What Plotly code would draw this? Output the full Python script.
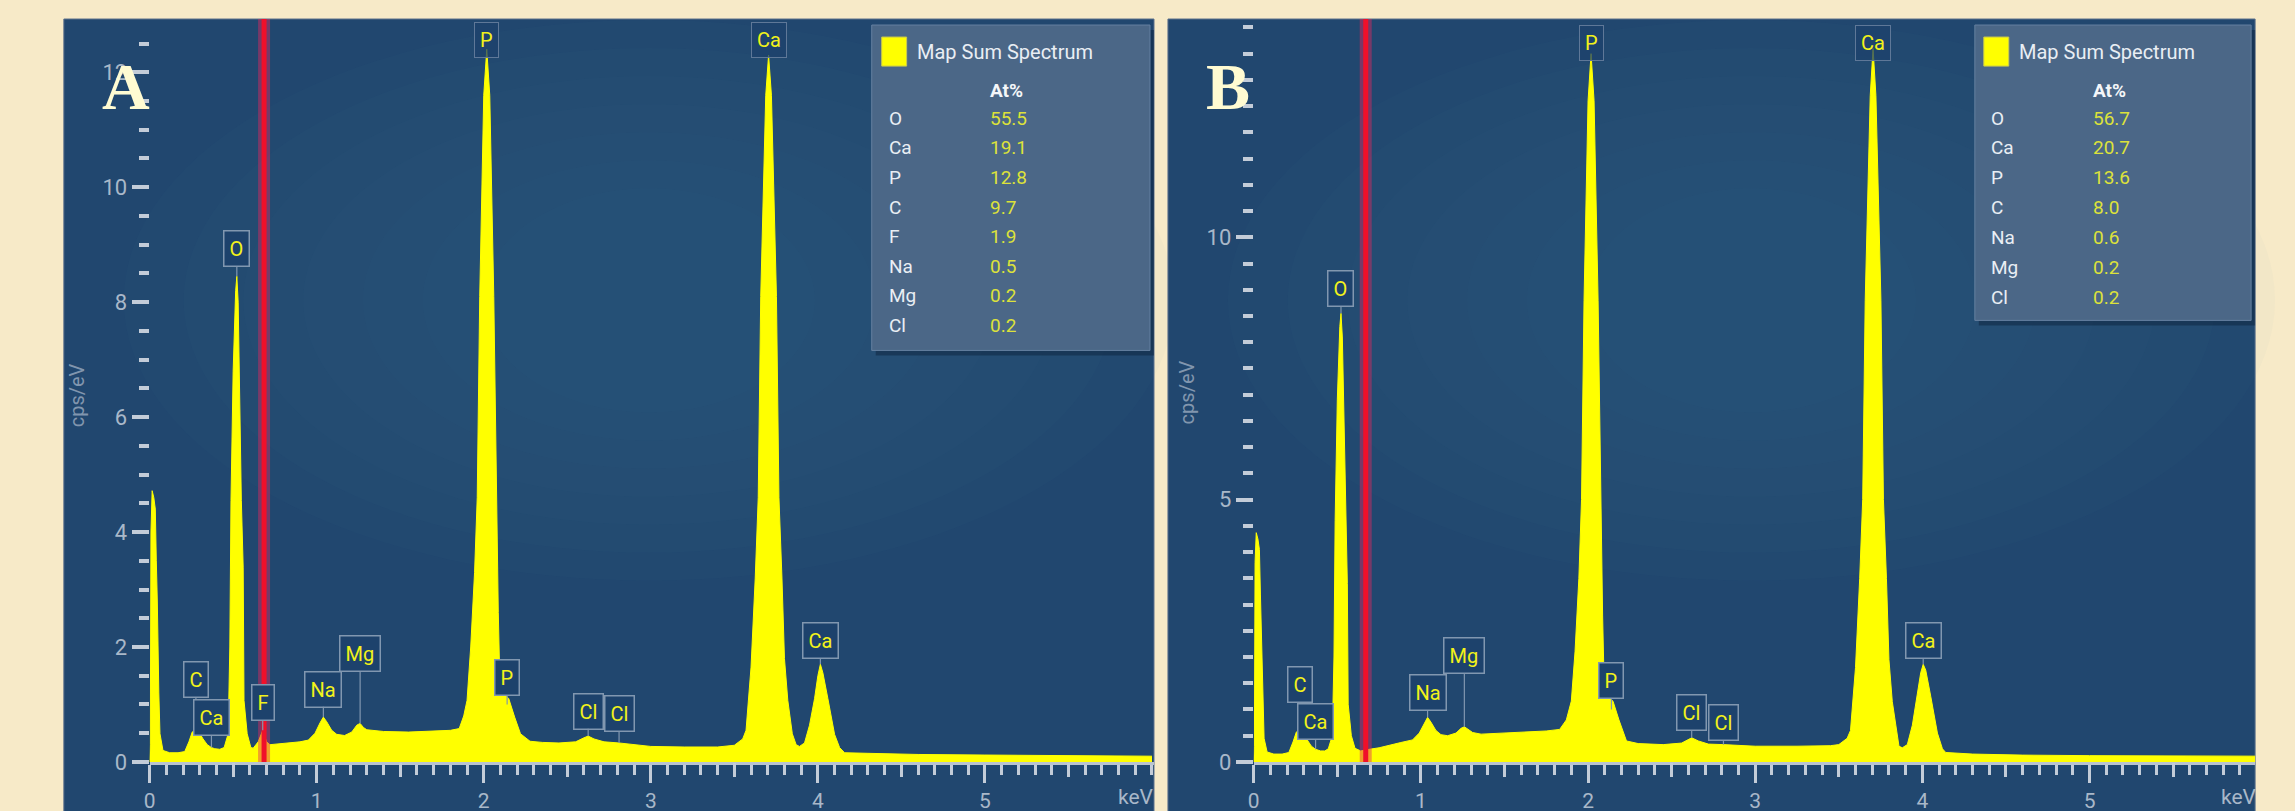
import plotly.graph_objects as go

# ---------------- data ----------------
# Panel A spectrum (keV, cps/eV)
a_kev = [0.000, 0.004, 0.008, 0.015, 0.025, 0.034, 0.040, 0.046, 0.055, 0.062, 0.080, 0.120, 0.170, 0.210,
         0.235, 0.255, 0.275, 0.295, 0.320, 0.345, 0.370, 0.390, 0.420, 0.446, 0.470, 0.480, 0.487, 0.500,
         0.515, 0.522, 0.530, 0.540, 0.549, 0.560, 0.565, 0.584, 0.606, 0.620, 0.650, 0.677, 0.700, 0.720,
         0.800, 0.900, 0.950, 0.990, 1.020, 1.040, 1.060, 1.090, 1.120, 1.167, 1.210, 1.240, 1.260, 1.280,
         1.300, 1.400, 1.550, 1.700, 1.800, 1.853, 1.880, 1.900, 1.922, 1.945, 1.961, 1.976, 2.000, 2.018,
         2.036, 2.060, 2.075, 2.087, 2.094, 2.110, 2.130, 2.150, 2.185, 2.220, 2.277, 2.350, 2.450,
         2.550, 2.600, 2.625, 2.660, 2.720, 2.810, 2.900, 3.000, 3.200, 3.400, 3.500, 3.550, 3.570, 3.600,
         3.625, 3.643, 3.658, 3.688, 3.705, 3.722, 3.752, 3.767, 3.785, 3.800, 3.820,
         3.847, 3.870, 3.890, 3.920, 3.950, 3.980, 4.000, 4.015, 4.030, 4.060, 4.100, 4.130, 4.160, 4.300,
         4.600, 5.000, 5.500, 6.000]
a_cps = [0.00, 0.30, 4.00, 4.72, 4.60, 4.40, 3.50, 2.80, 1.20, 0.49, 0.20, 0.16, 0.16, 0.18,
         0.35, 0.52, 0.56, 0.52, 0.40, 0.30, 0.25, 0.23, 0.22, 0.25, 0.49, 2.00, 4.55, 6.80,
         8.20, 8.45, 8.00, 6.20, 4.55, 3.39, 1.07, 0.49, 0.25, 0.24, 0.35, 0.55, 0.35, 0.30,
         0.32, 0.35, 0.38, 0.50, 0.68, 0.78, 0.70, 0.55, 0.48, 0.46, 0.52, 0.64, 0.67, 0.60,
         0.56, 0.53, 0.52, 0.54, 0.55, 0.58, 0.80, 1.07, 2.00, 3.30, 4.60, 8.10, 11.60, 12.40,
         11.60, 8.10, 4.60, 2.60, 1.70, 1.25, 1.16, 1.10, 0.78, 0.49, 0.36, 0.34, 0.33,
         0.35, 0.42, 0.45, 0.40, 0.35, 0.33, 0.30, 0.27, 0.26, 0.26, 0.29, 0.40, 0.55, 1.65,
         3.20, 4.60, 8.10, 11.60, 12.30, 11.60, 8.10, 4.60, 3.20, 1.80, 1.07,
         0.49, 0.30, 0.27, 0.33, 0.64, 1.10, 1.50, 1.70, 1.55, 1.10, 0.48, 0.25, 0.16, 0.15,
         0.13, 0.12, 0.11, 0.10]

# Panel B spectrum (keV, cps/eV)
b_kev = [0.000, 0.004, 0.008, 0.015, 0.025, 0.034, 0.040, 0.046, 0.055, 0.062, 0.080, 0.120, 0.170, 0.210,
         0.235, 0.255, 0.275, 0.295, 0.320, 0.345, 0.370, 0.400, 0.425, 0.446, 0.470, 0.480, 0.487, 0.500,
         0.515, 0.522, 0.530, 0.540, 0.549, 0.560, 0.565, 0.584, 0.606, 0.640, 0.690, 0.750, 0.880, 0.950,
         0.990, 1.020, 1.040, 1.060, 1.090, 1.120, 1.160, 1.210, 1.240, 1.260, 1.280, 1.310, 1.360, 1.500,
         1.650, 1.750, 1.830, 1.870, 1.900, 1.922, 1.945, 1.961, 1.976, 2.000, 2.018, 2.036, 2.060,
         2.075, 2.087, 2.094, 2.110, 2.130, 2.150, 2.185, 2.230, 2.300, 2.450, 2.560, 2.600, 2.620, 2.660,
         2.720, 2.810, 2.900, 3.000, 3.250, 3.450, 3.500, 3.550, 3.570, 3.600, 3.625, 3.643, 3.658, 3.688,
         3.705, 3.722, 3.752, 3.767, 3.785, 3.800, 3.820, 3.847, 3.860, 3.880, 3.910,
         3.940, 3.970, 3.990, 4.005, 4.020, 4.050, 4.090, 4.120, 4.140, 4.300, 4.600, 5.000, 5.500, 6.000]
b_cps = [0.00, 0.30, 3.80, 4.37, 4.25, 4.05, 3.20, 2.50, 1.10, 0.45, 0.19, 0.15, 0.15, 0.18,
         0.38, 0.57, 0.62, 0.57, 0.42, 0.30, 0.24, 0.21, 0.21, 0.25, 0.50, 2.00, 4.60, 6.90,
         8.30, 8.55, 8.10, 6.30, 4.60, 3.40, 1.10, 0.50, 0.26, 0.21, 0.24, 0.27, 0.37, 0.42,
         0.55, 0.75, 0.85, 0.76, 0.60, 0.52, 0.50, 0.55, 0.64, 0.67, 0.62, 0.56, 0.53, 0.55,
         0.57, 0.59, 0.62, 0.80, 1.16, 2.10, 3.50, 5.00, 8.80, 12.60, 13.50, 12.60, 8.80,
         5.00, 2.80, 1.80, 1.35, 1.23, 1.15, 0.80, 0.40, 0.35, 0.33, 0.36, 0.43, 0.46, 0.40,
         0.34, 0.33, 0.31, 0.30, 0.30, 0.31, 0.33, 0.45, 0.60, 1.80, 3.50, 5.00, 8.80, 12.70,
         13.60, 12.70, 8.80, 5.00, 3.50, 1.95, 1.15, 0.52, 0.30, 0.27, 0.33,
         0.70, 1.30, 1.70, 1.86, 1.75, 1.25, 0.55, 0.25, 0.18, 0.15, 0.13, 0.12, 0.11, 0.11]

# Peak labels: element, keV, cps/eV at pointer tip
a_lbl_el = ["C", "Ca", "O", "F", "Na", "Mg", "P", "Cl", "Cl", "Ca"]
a_lbl_kev = [0.277, 0.370, 0.522, 0.677, 1.040, 1.260, 2.140, 2.625, 2.810, 4.015]
a_lbl_cps = [0.56, 0.25, 8.45, 0.55, 0.78, 0.67, 1.00, 0.45, 0.33, 1.70]
a_top_el = ["P", "Ca"]
a_top_kev = [2.018, 3.705]

b_lbl_el = ["C", "Ca", "O", "Na", "Mg", "P", "Cl", "Cl", "Ca"]
b_lbl_kev = [0.277, 0.370, 0.522, 1.040, 1.260, 2.140, 2.620, 2.810, 4.005]
b_lbl_cps = [0.62, 0.24, 8.55, 0.85, 0.67, 1.00, 0.46, 0.33, 1.86]
b_top_el = ["P", "Ca"]
b_top_kev = [2.018, 3.705]

# Quantification tables (At%)
a_elements = ["O", "Ca", "P", "C", "F", "Na", "Mg", "Cl"]
a_atpct = ["55.5", "19.1", "12.8", "9.7", "1.9", "0.5", "0.2", "0.2"]
b_elements = ["O", "Ca", "P", "C", "Na", "Mg", "Cl"]
b_atpct = ["56.7", "20.7", "13.6", "8.0", "0.6", "0.2", "0.2"]

a_marker_kev = 0.685   # red marker line positions
b_marker_kev = 0.670
x_ticks = [0, 1, 2, 3, 4, 5]
x_half_ticks = [0.5, 1.5, 2.5, 3.5, 4.5, 5.5]

# ---------------- layout helpers ----------------
W, H = 2295, 811          # reference frame used for placement fractions
FIG_H = 825               # rendered height (page shows a 14px taller frame)
def px(x): return x / W
def py(y): return 1 - y / H

PAPER = "#f7eac8"
PANEL = "#21476f"
TICK = "#c3ccd8"
TICKLBL = "#a9b8c9"
YEL = "#ffff00"
LBLYEL = "#f2f21a"
FONT = "Roboto"

fig = go.Figure()

panels = [
    dict(name="A", kev=a_kev, cps=a_cps, xa="x", ya="y", xh="x3", marker=a_marker_kev,
         rect=(58, 19, 1151, 811), plotx=(144, 1151), xmax=1007 / 167.5, ymax=742 / 57.4, dtick=2,
         lbl=(a_lbl_el, a_lbl_kev, a_lbl_cps), ays=[-50, -30, -28, -28, -28, -70, -27, -25, -29, -24],
         top=(a_top_el, a_top_kev), topy=40,
         letter=(120, 86), ylab=(72, 395), kev_lbl=1133,
         legend=dict(box=(868, 25, 1147, 350), sq=(878, 37, 903, 66), title_x=911, at_x=985,
                     el_x=883, row0=118, step=29.6, els=a_elements, vals=a_atpct)),
    dict(name="B", kev=b_kev, cps=b_cps, xa="x2", ya="y2", xh="x4", marker=b_marker_kev,
         rect=(1165, 19, 2255, 811), plotx=(1251, 2255), xmax=1004 / 167.6, ymax=742 / 52.4, dtick=5,
         lbl=(b_lbl_el, b_lbl_kev, b_lbl_cps), ays=[-45, -28, -25, -25, -71, -29, -25, -22, -24],
         top=(b_top_el, b_top_kev), topy=43,
         letter=(1225, 86), ylab=(1185, 392), kev_lbl=2239,
         legend=dict(box=(1974, 25, 2251, 320), sq=(1983, 37, 2008, 66), title_x=2016, at_x=2090,
                     el_x=1988, row0=118, step=29.8, els=b_elements, vals=b_atpct)),
]

shapes = []
annotations = []
layout_axes = {}
ydom = [py(761), py(19)]

for i, p in enumerate(panels):
    sfx = "" if i == 0 else "2"
    hsfx = p["xh"][1:]
    x0, y0, x1, y1 = p["rect"]
    # dark panel
    shapes.append(dict(type="rect", xref="paper", yref="paper", x0=px(x0), x1=px(x1), y0=py(y1) - 0.02, y1=py(y0),
                       fillcolor=PANEL, line=dict(color="#5a6f8c", width=1), layer="below"))
    # soft lighter centre (stacked faint ellipses)
    cx, cy = (x0 + x1) / 2 + 40, 300
    for k in range(7):
        rx = (x1 - x0) / 2 - 20 - k * 60
        ry = 280 - k * 28
        shapes.append(dict(type="circle", xref="paper", yref="paper",
                           x0=px(cx - rx), x1=px(cx + rx), y0=py(cy + ry), y1=py(cy - ry),
                           fillcolor="rgba(80,130,180,0.028)", line=dict(width=0), layer="below"))

    fig.add_trace(go.Scatter(x=p["kev"], y=p["cps"], xaxis=p["xa"], yaxis=p["ya"], mode="lines",
                             line=dict(color=YEL, width=1), fill="tozeroy", fillcolor=YEL,
                             showlegend=False, hoverinfo="skip"))
    # invisible trace carrying the half-keV tick axis
    fig.add_trace(go.Scatter(x=[p["kev"][0]], y=[p["cps"][0]], xaxis=p["xh"], yaxis=p["ya"], mode="lines",
                             line=dict(width=0), showlegend=False, hoverinfo="skip"))

    layout_axes["xaxis" + sfx] = dict(
        domain=[px(p["plotx"][0]), px(p["plotx"][1])], range=[0, p["xmax"]], anchor=p["ya"],
        tickmode="array", tickvals=x_ticks, ticks="outside", ticklen=18, tickwidth=3, tickcolor=TICK,
        minor=dict(dtick=0.1, ticklen=10, tickwidth=3, tickcolor=TICK, ticks="outside"),
        showline=True, linecolor="#b9c3cf", linewidth=3, showgrid=False, zeroline=False,
        tickfont=dict(family=FONT, size=21, color=TICKLBL), fixedrange=True)
    layout_axes["xaxis" + hsfx] = dict(
        domain=[px(p["plotx"][0]), px(p["plotx"][1])], range=[0, p["xmax"]], anchor=p["ya"],
        overlaying=p["xa"], side="bottom",
        tickmode="array", tickvals=x_half_ticks, ticks="outside", ticklen=14, tickwidth=3, tickcolor=TICK,
        showticklabels=False, showline=False, showgrid=False, zeroline=False, fixedrange=True)
    layout_axes["yaxis" + sfx] = dict(
        domain=ydom, range=[0, p["ymax"]], anchor=p["xa"],
        dtick=p["dtick"], tick0=0, ticks="outside", ticklen=17, tickwidth=4, tickcolor=TICK,
        minor=dict(dtick=0.5, tick0=0, ticklen=10, tickwidth=4, tickcolor=TICK, ticks="outside"),
        showline=False, showgrid=False, zeroline=False,
        tickfont=dict(family=FONT, size=22, color=TICKLBL), fixedrange=True)

    # red marker line
    mk = p["marker"]
    shapes.append(dict(type="line", xref=p["xa"], yref="paper", x0=mk, x1=mk,
                       y0=ydom[0], y1=ydom[1], line=dict(color="rgba(225,40,95,0.45)", width=12), layer="above"))
    shapes.append(dict(type="line", xref=p["xa"], yref="paper", x0=mk, x1=mk,
                       y0=ydom[0], y1=ydom[1], line=dict(color="#f0102a", width=5), layer="above"))

    # peak labels
    els, kevs, cpss = p["lbl"]
    for el, kv, cv, ay in zip(els, kevs, cpss, p["ays"]):
        annotations.append(dict(x=kv, y=cv, xref=p["xa"], yref=p["ya"], text=el, showarrow=True,
                                ax=0, ay=ay, arrowhead=0, arrowwidth=1.2, arrowcolor="#8197b0", standoff=0,
                                font=dict(family=FONT, size=20, color=LBLYEL),
                                bgcolor="#1d426c", bordercolor="#8197b0", borderwidth=1.5, borderpad=5))
    tels, tkevs = p["top"]
    for el, kv in zip(tels, tkevs):
        annotations.append(dict(x=kv, y=py(p["topy"]), xref=p["xa"], yref="paper", text=el, showarrow=False,
                                yanchor="middle", font=dict(family=FONT, size=20, color=LBLYEL),
                                bgcolor="rgba(29,66,108,0.75)", bordercolor="#5f7898", borderwidth=1, borderpad=5))

    # panel letter
    lx, ly = p["letter"]
    annotations.append(dict(x=px(lx), y=py(ly), xref="paper", yref="paper", text="<b>%s</b>" % p["name"],
                            showarrow=False, xanchor="center", yanchor="middle",
                            font=dict(family="Liberation Serif", size=66, color="#fffbd2")))
    # y-axis title
    yx, yy = p["ylab"]
    annotations.append(dict(x=px(yx), y=py(yy), xref="paper", yref="paper", text="cps/eV", textangle=-90,
                            showarrow=False, xanchor="center", yanchor="middle",
                            font=dict(family=FONT, size=20, color="#8196ae")))
    # keV label
    annotations.append(dict(x=px(p["kev_lbl"]), y=py(796), xref="paper", yref="paper", text="keV",
                            showarrow=False, xanchor="center", yanchor="middle",
                            font=dict(family=FONT, size=21, color=TICKLBL)))

    # quantification box
    lg = p["legend"]
    bx0, by0, bx1, by1 = lg["box"]
    shapes.append(dict(type="rect", xref="paper", yref="paper", x0=px(bx0 + 4), x1=px(bx1 + 4),
                       y0=py(by1 + 5), y1=py(by0 + 5), fillcolor="rgba(10,30,55,0.45)",
                       line=dict(width=0), layer="above"))
    shapes.append(dict(type="rect", xref="paper", yref="paper", x0=px(bx0), x1=px(bx1),
                       y0=py(by1), y1=py(by0), fillcolor="#4b6787",
                       line=dict(color="#6580a0", width=1), layer="above"))
    sx0, sy0, sx1, sy1 = lg["sq"]
    shapes.append(dict(type="rect", xref="paper", yref="paper", x0=px(sx0), x1=px(sx1),
                       y0=py(sy1), y1=py(sy0), fillcolor=YEL, line=dict(color="#c8c850", width=1),
                       layer="above"))
    annotations.append(dict(x=px(lg["title_x"]), y=py((sy0 + sy1) / 2), xref="paper", yref="paper",
                            text="Map Sum Spectrum", showarrow=False, xanchor="left", yanchor="middle",
                            font=dict(family=FONT, size=20, color="#e9eef4")))
    annotations.append(dict(x=px(lg["at_x"]), y=py(90), xref="paper", yref="paper",
                            text="<b>At%</b>", showarrow=False, xanchor="left", yanchor="middle",
                            font=dict(family=FONT, size=19, color="#f4f6f9")))
    for k, (el, v) in enumerate(zip(lg["els"], lg["vals"])):
        ry = lg["row0"] + k * lg["step"]
        annotations.append(dict(x=px(lg["el_x"]), y=py(ry), xref="paper", yref="paper", text=el,
                                showarrow=False, xanchor="left", yanchor="middle",
                                font=dict(family=FONT, size=19, color="#e9eef4")))
        annotations.append(dict(x=px(lg["at_x"]), y=py(ry), xref="paper", yref="paper", text=v,
                                showarrow=False, xanchor="left", yanchor="middle",
                                font=dict(family=FONT, size=19, color="#dde23a")))

fig.update_layout(
    width=W, height=FIG_H, autosize=False, margin=dict(l=0, r=0, t=0, b=0, pad=0),
    paper_bgcolor=PAPER, plot_bgcolor="rgba(0,0,0,0)",
    shapes=shapes, annotations=annotations, showlegend=False,
    **layout_axes,
)

fig.write_html(
    "out.html",
    config={"responsive": False, "displayModeBar": False},
    post_script="document.body.style.margin='0';document.body.style.overflow='hidden';"
                "document.documentElement.style.overflow='hidden';"
                "document.body.style.background='%s';" % PAPER,
)
